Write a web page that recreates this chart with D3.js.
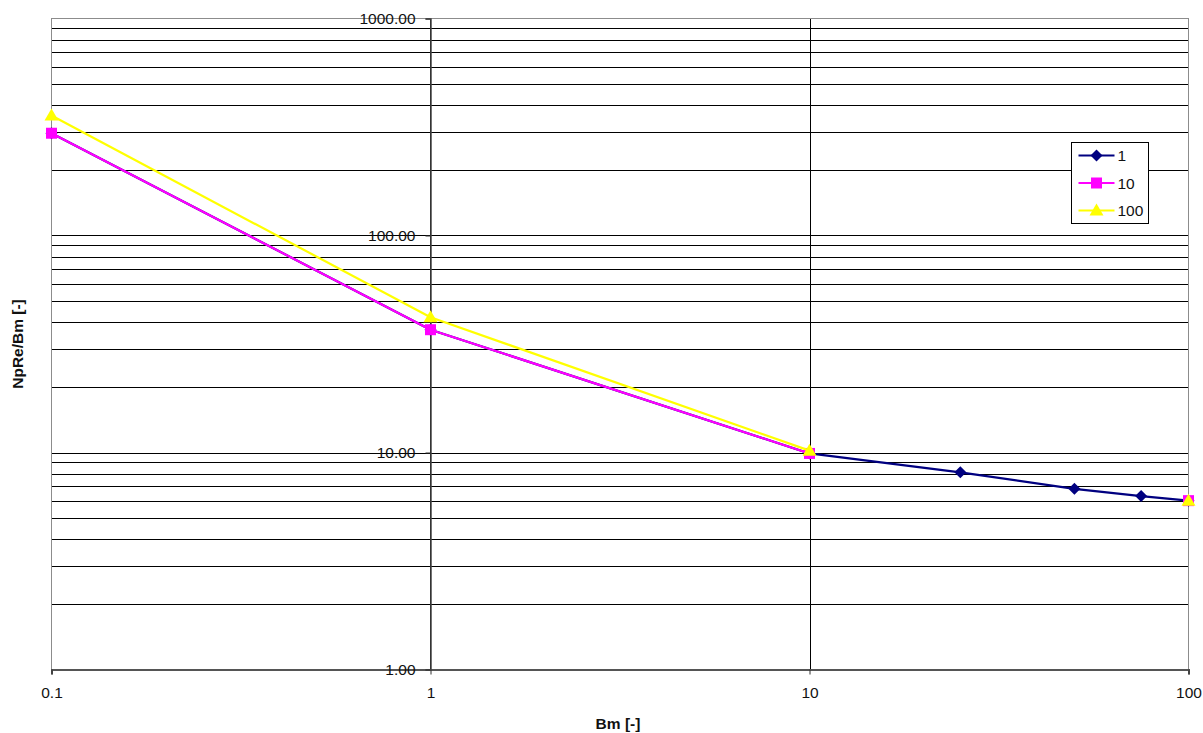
<!DOCTYPE html>
<html>
<head>
<meta charset="utf-8">
<script src="https://cdn.jsdelivr.net/npm/d3@7"></script>
<style>
  html, body { margin: 0; padding: 0; background: #fff; }
  svg { display: block; font-family: "Liberation Sans", Arial, sans-serif; }
</style>
</head>
<body>
<svg id="chart" width="1203" height="733"></svg>
<script>
// ---- data ----
const xValues = [0.1, 1, 10, 25, 50, 75, 100];
const seriesNames = ["1", "10", "100"];
const series1 = [296, 36.8, 9.9, 8.1, 6.8, 6.3, 6.0];
const series10 = [296, 36.8, 9.9, null, null, null, 6.0];
const series100 = [357, 42.0, 10.2, null, null, null, 6.0];
const seriesColors = ["#000080", "#FF00FF", "#FFFF00"];
const seriesMarkers = ["diamond", "square", "triangle"];
const xTicks = [0.1, 1, 10, 100];
const yTicks = [1, 10, 100, 1000];
const xTitle = "Bm [-]";
const yTitle = "NpRe/Bm [-]";

const allSeries = [series1, series10, series100];

// ---- layout ----
const svg = d3.select("#chart");
const pLeft = 51.5, pRight = 1188.5, pTop = 18.5, pBottom = 669.5;

const x = d3.scaleLog().domain([0.1, 100]).range([pLeft, pRight]);
const y = d3.scaleLog().domain([1, 1000]).range([pBottom, pTop]);

// minor gridlines (y)
const yGrid = [];
for (let d = 1; d < 1000; d *= 10) {
  for (let k = 1; k <= 10; k++) yGrid.push(d * k);
}
const yGridUnique = Array.from(new Set(yGrid.map(v => +v.toPrecision(6)))).filter(v => v > 1 && v < 1000);

svg.append("g").selectAll("line").data(yGridUnique).join("line")
  .attr("x1", pLeft).attr("x2", pRight)
  .attr("y1", d => Math.round(y(d)) + 0.5).attr("y2", d => Math.round(y(d)) + 0.5)
  .attr("stroke", "#000").attr("stroke-width", 1);

// vertical gridlines
svg.append("g").selectAll("line").data([1, 10]).join("line")
  .attr("y1", pTop).attr("y2", pBottom)
  .attr("x1", d => Math.round(x(d)) + 0.5).attr("x2", d => Math.round(x(d)) + 0.5)
  .attr("stroke", "#000").attr("stroke-width", 1);

// plot border
svg.append("rect")
  .attr("x", pLeft).attr("y", pTop).attr("width", pRight - pLeft).attr("height", pBottom - pTop)
  .attr("fill", "none").attr("stroke", "#8c8c8c").attr("stroke-width", 1);

// x axis (at y = 1)
const xAxis = d3.axisBottom(x).tickValues(xTicks).tickFormat(d3.format("")).tickSize(5).tickPadding(12);
const gx = svg.append("g").attr("transform", `translate(0,${pBottom})`).call(xAxis);
gx.select(".domain").attr("stroke", "#555").attr("stroke-width", 2);
gx.selectAll(".tick line").attr("stroke", "#333");
gx.selectAll(".tick text").attr("font-size", 15.5).attr("fill", "#111")
  .attr("font-family", "Liberation Sans, Arial, sans-serif");

// y axis (crosses at x = 1)
const yAxis = d3.axisLeft(y).tickValues(yTicks).tickFormat(d3.format(".2f")).tickSize(5).tickPadding(10);
const gy = svg.append("g").attr("transform", `translate(${Math.round(x(1)) + 0.5},0)`).call(yAxis);
gy.select(".domain").attr("stroke", "#444").attr("stroke-width", 1.5);
gy.selectAll(".tick line").attr("stroke", "#333");
gy.selectAll(".tick text").attr("font-size", 15.5).attr("fill", "#111")
  .attr("font-family", "Liberation Sans, Arial, sans-serif");

// axis titles
svg.append("text").attr("x", (pLeft + pRight) / 2 - 2).attr("y", 729)
  .attr("text-anchor", "middle").attr("font-weight", "bold").attr("font-size", 15.5)
  .attr("fill", "#111").text(xTitle);
svg.append("text").attr("transform", `translate(23,${(pTop + pBottom) / 2}) rotate(-90)`)
  .attr("text-anchor", "middle").attr("font-weight", "bold").attr("font-size", 15.5)
  .attr("fill", "#111").text(yTitle);

// marker drawing
function markerPath(type) {
  if (type === "diamond") return "M0,-6L6,0L0,6L-6,0Z";
  if (type === "square") return "M-5.5,-5.5H5.5V5.5H-5.5Z";
  return "M0,-7L7,5L-7,5Z";
}

const line = d3.line()
  .defined(d => d.v != null)
  .x(d => x(d.x)).y(d => y(d.v));

allSeries.forEach((vals, i) => {
  const pts = xValues.map((xv, j) => ({ x: xv, v: vals[j] }));
  const g = svg.append("g");
  g.append("path").datum(pts).attr("d", line)
    .attr("fill", "none").attr("stroke", seriesColors[i]).attr("stroke-width", 2.2)
    .attr("stroke-linejoin", "round");
  g.selectAll("path.m").data(pts.filter(d => d.v != null)).join("path").attr("class", "m")
    .attr("d", markerPath(seriesMarkers[i]))
    .attr("transform", d => `translate(${x(d.x)},${y(d.v)})`)
    .attr("fill", seriesColors[i]);
});

// legend
const lg = svg.append("g").attr("transform", "translate(1071.5,142.5)");
lg.append("rect").attr("width", 77).attr("height", 81)
  .attr("fill", "#fff").attr("stroke", "#000").attr("stroke-width", 1);
seriesNames.forEach((name, i) => {
  const cy = 13 + i * 27.5;
  lg.append("line").attr("x1", 7).attr("x2", 43).attr("y1", cy).attr("y2", cy)
    .attr("stroke", seriesColors[i]).attr("stroke-width", 2.2);
  lg.append("path").attr("d", markerPath(seriesMarkers[i]))
    .attr("transform", `translate(25,${cy})`).attr("fill", seriesColors[i]);
  lg.append("text").attr("x", 46).attr("y", cy).attr("dy", "0.36em")
    .attr("font-size", 15.5).attr("fill", "#111").text(name);
});
</script>
</body>
</html>
